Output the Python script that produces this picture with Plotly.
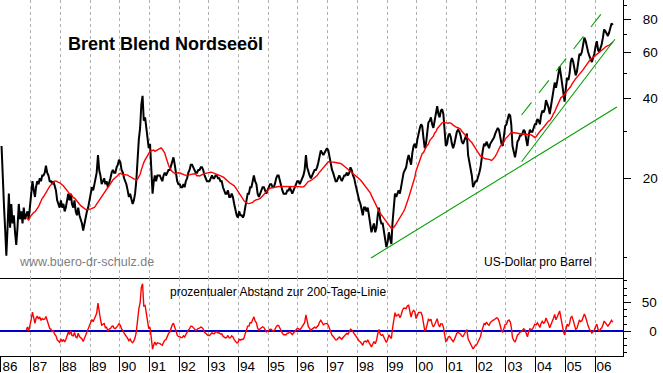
import pandas as pd
import plotly.graph_objects as go

# Brent Blend, US$ per barrel: two readings per month (around the 8th and the 23rd)
p1986 = [26.5, 19.5, 15.5, 12.5, 10.2, 13, 17.5, 13, 16, 13.5, 14.5, 12.5,
         11.2, 13, 16, 14, 15, 13.5, 15.5, 14, 14.5, 15, 14, 15.5]
p1987 = [17.5, 19.5, 18, 17, 18.5, 19.5, 19, 20, 19.5, 20.5, 20.5, 21,
         22.3, 21, 20.5, 19.5, 19.5, 19, 19.5, 18.5, 18, 16.5, 16, 15.5]
p1988 = [16.5, 15.5, 16, 15, 15.5, 16.5, 17.5, 16.5, 17.5, 16, 15.5, 16.5,
         15, 14.5, 15.5, 14.5, 14, 13.5, 12.7, 13.5, 14, 15, 15.5, 16.5]
p1989 = [17.5, 18.5, 18, 19, 19.5, 21, 24.5, 21.5, 20.5, 19, 19.5, 20,
         19, 19.5, 18.5, 19.5, 20, 21, 21.5, 21, 21, 22, 22.5, 23.5]
p1990 = [23, 21.5, 21, 20, 19.5, 19, 18, 17, 17.5, 16.5, 16, 16.5,
         17.5, 19.5, 25, 28, 31, 38, 41, 33, 34, 31, 28, 26]
p1991 = [27, 20.5, 17.5, 19.5, 20.5, 19.5, 20.5, 20.5, 20.5, 20, 19.5, 20.5,
         21, 20.5, 21, 21.5, 21.5, 22.5, 23.5, 24, 22.5, 21, 19.5, 19]
p1992 = [19, 18.5, 18.5, 19, 18.5, 19.5, 20, 21, 21.5, 22.5, 22.5, 22,
         21.5, 21, 21, 21.5, 21.5, 22, 22, 21.5, 20.5, 20, 19.5, 19.5]
p1993 = [19.5, 20, 20.5, 20, 20, 20.5, 20.5, 20, 20, 19.5, 19.5, 18.5,
         18, 17.5, 17.5, 18, 17, 17, 17.5, 17, 16, 15, 14.5, 14.2]
p1994 = [15, 14.5, 14.5, 14.2, 14.5, 15.5, 16.5, 17.5, 17.5, 18.5, 18.5, 19.5,
         20.5, 19.5, 19, 17.5, 17, 17.5, 18, 18.5, 18.5, 18, 17.5, 18]
p1995 = [18.5, 19, 19, 18.5, 18.5, 19, 20, 20.5, 20.5, 19.5, 19, 18,
         17.5, 17.5, 17.5, 18, 18, 18.5, 18, 17.5, 18, 18.5, 19, 19.5]
p1996 = [19.5, 19, 19.5, 20, 20.5, 21.5, 24.5, 22, 21, 20.5, 20, 20.5,
         21, 21.5, 21.5, 22, 23, 24.5, 25.5, 25, 24.5, 25, 25.5, 26]
p1997 = [25.5, 24, 22.5, 21.5, 21, 20, 19.5, 19.5, 20, 20.5, 20, 19.5,
         20, 20.5, 20.5, 21, 20.5, 21, 22, 21.5, 20.5, 20, 19, 18]
p1998 = [17.5, 16.5, 16, 15, 14.5, 15.5, 15.5, 15, 15.5, 14.5, 13.5, 12.5,
         13, 13.5, 12.5, 13, 14.5, 15.5, 14, 13.5, 13.5, 12.5, 11.5, 11]
p1999 = [11.5, 12.5, 11.8, 11.3, 13.5, 16, 17.5, 17, 17.5, 18, 17.5, 18.5,
         20, 21, 21.5, 22, 23.5, 24.5, 23.5, 22.5, 25, 26.5, 27, 26]
p2000 = [28, 30, 31, 32, 31.5, 28.5, 26, 27, 30, 32.5, 33, 34,
         32, 31, 33, 35, 37.5, 35, 34, 36, 36.5, 35, 30, 26.5]
p2001 = [27, 29, 29.5, 28.5, 27, 26, 27, 28.5, 30, 30.5, 30, 29,
         27.5, 27, 28, 29, 29.5, 24.5, 23, 22, 20.5, 18.5, 19, 19.5]
p2002 = [19.5, 20.5, 21, 22, 24, 25.5, 27, 26.5, 27.5, 26.5, 26, 27,
         27.5, 28, 28.5, 29.5, 30.5, 31, 30.5, 29, 27, 26.5, 29, 31.5]
p2003 = [32, 34, 35, 34.5, 32, 26.5, 25, 24, 25.5, 27.5, 28, 29,
         29, 29.5, 30.5, 30, 28, 26.5, 29, 30.5, 30, 30, 31, 32]
p2004 = [32, 33.5, 33, 32, 34.5, 36, 35.5, 36.5, 39.5, 38.5, 37, 35,
         38, 40, 43, 46, 44, 46.5, 50, 53, 49, 45, 41, 39]
p2005 = [44, 48, 47, 50, 55, 57, 55, 51, 49, 50.5, 55, 59,
         58.5, 60, 64, 68, 66, 62, 60, 58, 56, 55, 57, 59]
p2006 = [63, 66, 61, 60, 62, 64, 68, 73, 72, 70, 69, 71,
         74, 77, 76]

years = list(range(1986, 2007))
yearly_prices = [p1986, p1987, p1988, p1989, p1990, p1991, p1992, p1993, p1994,
                 p1995, p1996, p1997, p1998, p1999, p2000, p2001, p2002, p2003,
                 p2004, p2005, p2006]

# trend lines drawn on the chart (start, end)
trend_long_dates = ["1998-06-17", "2006-09-27"]
trend_long_values = [10.0, 37.2]
trend_steep_dates = ["2003-07-13", "2006-09-02"]
trend_steep_values = [23.1, 67.1]
channel_dates = ["2003-07-13", "2006-06-13"]
channel_values = [34.7, 90.4]

y_major = [20, 40, 60, 80]
y_minor = [10, 30, 50, 70, 90]
osc_major = [0, 50]
osc_minor = [-37.5, -25, -12.5, 12.5, 25, 37.5, 62.5, 75, 87.5]

dates, prices = [], []
for yr, vals in zip(years, yearly_prices):
    for i, v in enumerate(vals):
        dates.append(pd.Timestamp(yr, i // 2 + 1, 8 if i % 2 == 0 else 23))
        prices.append(v)
s = pd.Series(prices, index=pd.DatetimeIndex(dates), dtype=float)
ma = s.rolling("290D").mean()
ma[ma.index < s.index[0] + pd.Timedelta(days=290)] = float("nan")
osc = (s / ma - 1.0) * 100.0

FONT = "Liberation Sans, Arial, sans-serif"
fig = go.Figure()
fig.add_trace(go.Scatter(x=s.index, y=s.values, mode="lines",
                         line=dict(color="black", width=2.0), xaxis="x", yaxis="y"))
fig.add_trace(go.Scatter(x=ma.index, y=ma.values, mode="lines",
                         line=dict(color="#ff0000", width=1.4), xaxis="x", yaxis="y"))
for dts, vals, dash in [(trend_long_dates, trend_long_values, "solid"),
                        (trend_steep_dates, trend_steep_values, "solid"),
                        (channel_dates, channel_values, "16px,12px")]:
    fig.add_trace(go.Scatter(x=pd.to_datetime(dts), y=vals, mode="lines",
                             line=dict(color="#00a000", width=1.1, dash=dash),
                             xaxis="x", yaxis="y"))
fig.add_trace(go.Scatter(x=osc.index, y=osc.values, mode="lines",
                         line=dict(color="#ff0000", width=1.4), xaxis="x2", yaxis="y2"))

xr = ["1985-12-20", "2006-12-11"]
top_b = (373 - 278) / 373
bot_b = (373 - 356) / 373
grid = dict(showgrid=True, gridcolor="#b0b0b0", gridwidth=1, griddash="3px,3px",
            tickmode="linear", tick0="1986-01-01", dtick="M12", automargin=False)

fig.update_layout(
    width=663, height=373, margin=dict(l=0, r=40, t=0, b=0, autoexpand=False),
    paper_bgcolor="white", plot_bgcolor="white", showlegend=False,
    hovermode=False,
    xaxis=dict(domain=[0, 1], anchor="y", range=xr, type="date",
               showticklabels=False, ticks="", showline=True, linecolor="black",
               linewidth=1, zeroline=False, **grid),
    yaxis=dict(domain=[top_b, 1], anchor="x", type="log", range=[0.9242, 1.9749],
               side="right", showline=True, linecolor="black", linewidth=1,
               ticks="outside", ticklen=7, tickcolor="black", tickmode="array",
               tickvals=y_major, ticktext=[str(v) for v in y_major],
               minor=dict(tickmode="array", tickvals=y_minor, ticks="outside",
                          ticklen=3, tickcolor="black"),
               showgrid=False, zeroline=False, ticklabelstandoff=9, automargin=False,
               tickfont=dict(family=FONT, size=13.5, color="black")),
    xaxis2=dict(domain=[0, 1], anchor="y2", range=xr, type="date",
                showline=True, linecolor="black", linewidth=1,
                ticks="outside", ticklen=15, tickcolor="black", tickformat="%y",
                ticklabelshift=9, ticklabelstandoff=-17, zeroline=False,
                tickfont=dict(family=FONT, size=13.5, color="black"), **grid),
    yaxis2=dict(domain=[bot_b, top_b], anchor="x2", range=[-43.2, 92.7],
                side="right", showline=True, linecolor="black", linewidth=1,
                ticks="outside", ticklen=7, tickcolor="black", tickmode="array",
                tickvals=osc_major, ticktext=["\u00a0\u00a00", "50"],
                minor=dict(tickmode="array", tickvals=osc_minor, ticks="outside",
                           ticklen=3, tickcolor="black"),
                showgrid=False, zeroline=True, zerolinecolor="#0000cc",
                zerolinewidth=1.5, ticklabelstandoff=8, automargin=False,
                tickfont=dict(family=FONT, size=13.5, color="black")),
    annotations=[
        dict(text="<b>Brent Blend Nordseeöl</b>", xref="paper", yref="paper",
             x=66 / 623, y=(373 - 44) / 373, xanchor="left", yanchor="middle",
             showarrow=False, font=dict(family=FONT, size=18, color="black")),
        dict(text="www.buero-dr-schulz.de", xref="paper", yref="paper",
             x=17 / 623, y=(373 - 262) / 373, xanchor="left", yanchor="middle",
             showarrow=False, font=dict(family=FONT, size=12.5, color="#808080")),
        dict(text="US-Dollar pro Barrel", xref="paper", yref="paper",
             x=482 / 623, y=(373 - 262) / 373, xanchor="left", yanchor="middle",
             showarrow=False, font=dict(family=FONT, size=12, color="black")),
        dict(text="prozentualer Abstand zur 200-Tage-Linie", xref="paper", yref="paper",
             x=168 / 623, y=(373 - 292) / 373, xanchor="left", yanchor="middle",
             showarrow=False, font=dict(family=FONT, size=12, color="black")),
    ],
)

fig.write_html(
    "out.html",
    config={"displayModeBar": False, "staticPlot": True},
    post_script="document.body.style.margin='0';document.body.style.padding='0';"
                "document.documentElement.style.overflow='hidden';",
)
